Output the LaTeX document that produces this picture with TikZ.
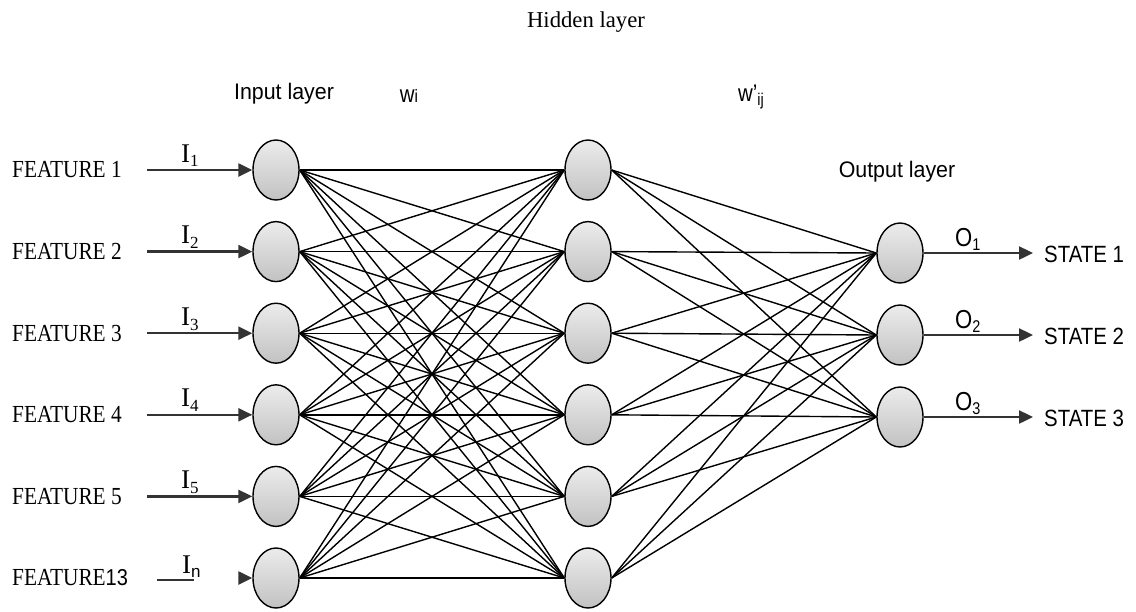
\documentclass[tikz,border=0pt]{standalone}
\usepackage{fontspec}
\setmainfont{Liberation Serif}
\setsansfont{Liberation Sans}
\usetikzlibrary{shapes.geometric,arrows.meta}
\newcommand{\mysub}[1]{\raisebox{-0.18em}{\fontsize{17}{17}\selectfont #1}}
\begin{document}
\begin{tikzpicture}[x=1pt,y=-1pt,
  neuron/.style={ellipse,draw=black,line width=1.4pt,minimum width=46pt,minimum height=60pt,inner sep=0pt,
    top color=gray!15,bottom color=gray!48},
  link/.style={draw=black,line width=1.4pt},
  ioarrow/.style={draw=black!80,line width=2.4pt,-{Triangle[length=14pt,width=13pt]}},
  feat/.style={anchor=west,inner sep=0pt,font=\fontsize{24.5}{25}\selectfont,xscale=0.87},
  ilab/.style={anchor=base west,inner sep=0pt,font=\fontsize{27}{27}\selectfont},
  olab/.style={anchor=base west,inner sep=0pt,font=\sffamily\fontsize{26}{26}\selectfont,xscale=0.85},
  state/.style={anchor=west,inner sep=0pt,font=\sffamily\fontsize{23.5}{24}\selectfont,xscale=0.87},
  layer/.style={inner sep=0pt,font=\sffamily\fontsize{22.5}{23}\selectfont,xscale=0.95},
]
\useasboundingbox[fill=white] (0,0) rectangle (1136,611);

% neurons
\foreach \i in {1,...,6}{
  \pgfmathsetmacro{\yy}{170+81.6*(\i-1)}
  \node[neuron] (in\i) at (276,\yy) {};
  \node[neuron] (hid\i) at (588,\yy) {};
}
\foreach \k in {1,2,3}{
  \pgfmathsetmacro{\yy}{253+82*(\k-1)}
  \node[neuron] (out\k) at (900,\yy) {};
}

% connections
\foreach \i in {1,...,6}{
  \foreach \j in {1,...,6}{
    \draw[link] (in\i.east) -- (hid\j.west);
  }
  \foreach \k in {1,2,3}{
    \draw[link] (hid\i.east) -- (out\k.west);
  }
}

% input side
\foreach \i/\t in {1/FEATURE 1,2/FEATURE 2,3/FEATURE 3,4/FEATURE 4,5/FEATURE 5}{
  \pgfmathsetmacro{\yy}{170+81.6*(\i-1)}
  \node[feat] (f\i) at (12,\yy) {\t};
  \coordinate (s\i) at (147,\yy);
  \draw[ioarrow] (s\i) -- (in\i.west);
  \node[ilab] (il\i) at (181,\yy-8) {I\mysub{\i}};
}
\node[feat] (f6) at (12,578) {FEATURE{\sffamily\fontsize{23}{23}\selectfont 13}};
\coordinate (s6a) at (157,580);
\coordinate (s6b) at (194,580);
\draw[draw=black!80,line width=2pt] (s6a) -- (s6b);
\node[ilab] (il6) at (182,573) {I\mysub{\sffamily n}};
\coordinate (s6) at (241,578);
\draw[ioarrow] (s6) -- (in6.west);

% output side
\foreach \k in {1,2,3}{
  \pgfmathsetmacro{\yy}{253+82*(\k-1)}
  \coordinate (e\k) at (1033,\yy);
  \draw[ioarrow] (out\k.east) -- (e\k);
  \node[olab] (ol\k) at (955,\yy-7) {O\mysub{\k}};
  \node[state] (st\k) at (1044,\yy+1) {STATE \k};
}

% layer labels
\node[inner sep=0pt,font=\fontsize{22.7}{23}\selectfont] (hl) at (586,22) {Hidden layer};
\node[layer] (il) at (284,94) {Input layer};
\node[layer] (ol) at (897,172) {Output layer};
\node[inner sep=0pt,font=\sffamily\fontsize{24}{24}\selectfont,xscale=0.85] (w1) at (409,96) {w{\fontsize{18}{18}\selectfont i}};
\node[inner sep=0pt,font=\sffamily\fontsize{24}{24}\selectfont,xscale=0.85] (w2) at (751,97) {w'\raisebox{-0.2em}{\fontsize{17}{17}\selectfont ij}};
\end{tikzpicture}
\end{document}
